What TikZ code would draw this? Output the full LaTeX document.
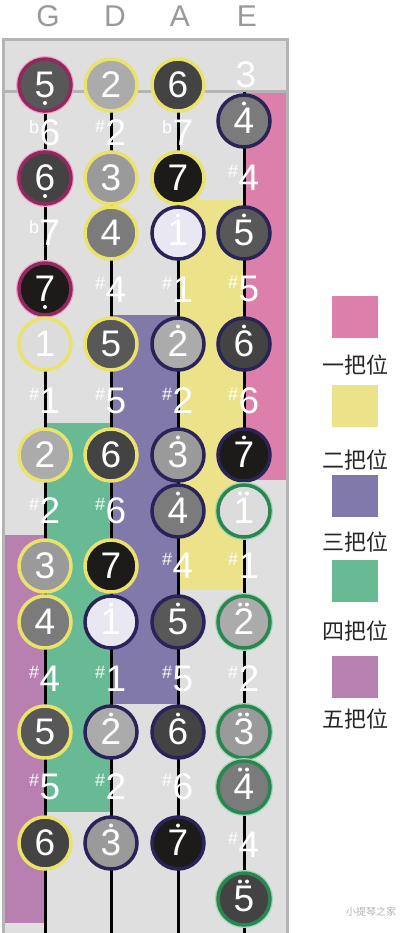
\documentclass[tikz,border=0pt]{standalone}
\usepackage{fontspec}
\setmainfont{Liberation Sans}
\newfontfamily\cjk{Noto Sans CJK SC}
\definecolor{boardbg}{HTML}{DFDFDF}
\definecolor{bordercol}{HTML}{B4B4B4}
\definecolor{posP}{HTML}{DC80AB}
\definecolor{posY}{HTML}{ECE28A}
\definecolor{posV}{HTML}{8079A9}
\definecolor{posG}{HTML}{68BA94}
\definecolor{posM}{HTML}{B880B0}
\definecolor{ringP}{HTML}{8E2A5E}
\definecolor{haloP}{HTML}{F2A2C8}
\definecolor{ringY}{HTML}{EAE36A}
\definecolor{ringN}{HTML}{2A2358}
\definecolor{ringG}{HTML}{2A8550}
\definecolor{haloG}{HTML}{9ED9B4}
\definecolor{cA}{HTML}{E9E7F1}
\definecolor{cAg}{HTML}{DCDCDC}
\definecolor{cB}{HTML}{ABABAB}
\definecolor{cC}{HTML}{9A9A9A}
\definecolor{cD}{HTML}{7B7B7B}
\definecolor{cE}{HTML}{585858}
\definecolor{cF}{HTML}{434343}
\definecolor{cG}{HTML}{1D1A1A}
\newcommand\sh{\llap{\raisebox{13.5pt}{\fontsize{18}{18}\selectfont\#}\kern0.5pt}}
\newcommand\fl{\llap{\raisebox{12.5pt}{\fontsize{18}{18}\selectfont b}\kern0.5pt}}
\newcommand\dup[1]{\fill[white] ([yshift=17.5pt]#1.center) circle (2pt);}
\newcommand\ddn[1]{\fill[white] ([yshift=-18pt]#1.center) circle (2pt);}
\newcommand\ddup[1]{\fill[white] ([yshift=17.5pt,xshift=-4pt]#1.center) circle (2pt); \fill[white] ([yshift=17.5pt,xshift=3pt]#1.center) circle (2pt);}
\begin{document}
\begin{tikzpicture}[x=1pt,y=-1pt,
  note/.style={circle, minimum size=52pt, inner sep=0pt, line width=3.5pt, text=white, font=\fontsize{37}{37}\selectfont},
  rP/.style={draw=ringP, preaction={draw=haloP, line width=6pt}},
  rY/.style={draw=ringY},
  rN/.style={draw=ringN},
  rG/.style={draw=ringG, preaction={draw=haloG, line width=6pt}},
  acc/.style={inner sep=0pt, text=white, font=\fontsize{37}{37}\selectfont},
  head/.style={inner sep=0pt, text=black!40, font=\fontsize{30}{30}\selectfont},
  strline/.style={line width=3pt, black},
  nutline/.style={line width=3pt, bordercol},
  legsq/.style={minimum width=46pt, minimum height=42pt, inner sep=0pt},
  leglab/.style={inner sep=0pt, text=black!85, font=\cjk\fontsize{22}{22}\selectfont},
  wm/.style={inner sep=0pt, text=black!30, font=\cjk\fontsize{10}{10}\selectfont}
]
\useasboundingbox (0,0) rectangle (407,933);
% board
\fill[boardbg] (3,40) rectangle (287,933);
\fill[posP] (245,93) rectangle (286,480);
\fill[posY] (178,200) rectangle (245,590);
\fill[posV] (111,315) rectangle (178,704);
\fill[posG] (45,423) rectangle (111,812);
\fill[posM] (4,535) rectangle (45,923);
\draw[bordercol, line width=3pt] (3,933) -- (3,40) -- (287,40) -- (287,933);
% nut
\coordinate (nutL) at (3,92);
\coordinate (nutR) at (287,92);
\draw[nutline] (nutL) -- (nutR);
% strings
\foreach \n/\x in {G/45,D/111,A/178,E/244}{
  \coordinate (\n top) at (\x,92);
  \coordinate (\n bot) at (\x,933);
  \draw[strline] (\n top) -- (\n bot);
}
% heads
\node[head] (hG) at (48,16) {G};
\node[head] (hD) at (115,16) {D};
\node[head] (hA) at (180,16) {A};
\node[head] (hE) at (247,16) {E};
% row 0
\node[note,rP,fill=cE] (G0) at (45,85) {5}; \ddn{G0}
\node[note,rY,fill=cB] (D0) at (111,85) {2};
\node[note,rY,fill=cF] (A0) at (178,85) {6};
\node[acc] (E0) at (246,75) {3};
% row 1
\node[acc] (G1) at (50,133) {\fl 6};
\node[acc] (D1) at (116,133) {\sh 2};
\node[acc] (A1) at (183,133) {\fl 7};
\node[note,rN,fill=cD] (E1) at (244,121) {4}; \dup{E1}
% row 2
\node[note,rP,fill=cF] (G2) at (45,178) {6}; \ddn{G2}
\node[note,rY,fill=cC] (D2) at (111,178) {3};
\node[note,rY,fill=cG] (A2) at (178,178) {7};
\node[acc] (E2) at (249,178) {\sh 4};
% row 3
\node[acc] (G3) at (50,233) {\fl 7};
\node[note,rY,fill=cD] (D3) at (111,233) {4};
\node[note,rN,fill=cA] (A3) at (178,233) {1}; \dup{A3}
\node[note,rN,fill=cE] (E3) at (244,233) {5}; \dup{E3}
% row 4
\node[note,rP,fill=cG] (G4) at (45,289) {7}; \ddn{G4}
\node[acc] (D4) at (116,290) {\sh 4};
\node[acc] (A4) at (183,290) {\sh 1};
\node[acc] (E4) at (249,289) {\sh 5};
% row 5
\node[note,rY,fill=cAg] (G5) at (45,344) {1};
\node[note,rY,fill=cE] (D5) at (111,344) {5};
\node[note,rN,fill=cB] (A5) at (178,344) {2}; \dup{A5}
\node[note,rN,fill=cF] (E5) at (244,344) {6}; \dup{E5}
% row 6
\node[acc] (G6) at (50,401) {\sh 1};
\node[acc] (D6) at (116,401) {\sh 5};
\node[acc] (A6) at (183,401) {\sh 2};
\node[acc] (E6) at (249,401) {\sh 6};
% row 7
\node[note,rY,fill=cB] (G7) at (45,455) {2};
\node[note,rY,fill=cF] (D7) at (111,455) {6};
\node[note,rN,fill=cC] (A7) at (178,455) {3}; \dup{A7}
\node[note,rN,fill=cG] (E7) at (244,455) {7}; \dup{E7}
% row 8
\node[acc] (G8) at (50,511) {\sh 2};
\node[acc] (D8) at (116,511) {\sh 6};
\node[note,rN,fill=cD] (A8) at (178,511) {4}; \dup{A8}
\node[note,rG,fill=cAg] (E8) at (244,511) {1}; \ddup{E8}
% row 9
\node[note,rY,fill=cC] (G9) at (45,566) {3};
\node[note,rY,fill=cG] (D9) at (111,566) {7};
\node[acc] (A9) at (183,566) {\sh 4};
\node[acc] (E9) at (249,566) {\sh 1};
% row 10
\node[note,rY,fill=cD] (G10) at (45,622) {4};
\node[note,rN,fill=cA] (D10) at (111,622) {1}; \dup{D10}
\node[note,rN,fill=cE] (A10) at (178,622) {5}; \dup{A10}
\node[note,rG,fill=cB] (E10) at (244,622) {2}; \ddup{E10}
% row 11
\node[acc] (G11) at (50,679) {\sh 4};
\node[acc] (D11) at (116,679) {\sh 1};
\node[acc] (A11) at (183,679) {\sh 5};
\node[acc] (E11) at (249,679) {\sh 2};
% row 12
\node[note,rY,fill=cE] (G12) at (45,732) {5};
\node[note,rN,fill=cB] (D12) at (111,732) {2}; \dup{D12}
\node[note,rN,fill=cF] (A12) at (178,732) {6}; \dup{A12}
\node[note,rG,fill=cC] (E12) at (244,732) {3}; \ddup{E12}
% row 13
\node[acc] (G13) at (50,787) {\sh 5};
\node[acc] (D13) at (116,787) {\sh 2};
\node[acc] (A13) at (183,787) {\sh 6};
\node[note,rG,fill=cD] (E13) at (244,787) {4}; \ddup{E13}
% row 14
\node[note,rY,fill=cF] (G14) at (45,843) {6};
\node[note,rN,fill=cC] (D14) at (111,843) {3}; \dup{D14}
\node[note,rN,fill=cG] (A14) at (178,843) {7}; \dup{A14}
\node[acc] (E14) at (249,845) {\sh 4};
% row 15
\node[note,rG,fill=cF] (E15) at (244,899) {5}; \ddup{E15}
% legend
\node[legsq,fill=posP] (L1) at (355,317) {};
\node[leglab] (T1) at (355,365) {一把位};
\node[legsq,fill=posY] (L2) at (355,406) {};
\node[leglab] (T2) at (355,460) {二把位};
\node[legsq,fill=posV] (L3) at (355,496) {};
\node[leglab] (T3) at (355,542) {三把位};
\node[legsq,fill=posG] (L4) at (355,581) {};
\node[leglab] (T4) at (355,631) {四把位};
\node[legsq,fill=posM] (L5) at (355,677) {};
\node[leglab] (T5) at (355,719) {五把位};
% watermark
\node[wm] (W) at (371,912) {小提琴之家};
\end{tikzpicture}
\end{document}
